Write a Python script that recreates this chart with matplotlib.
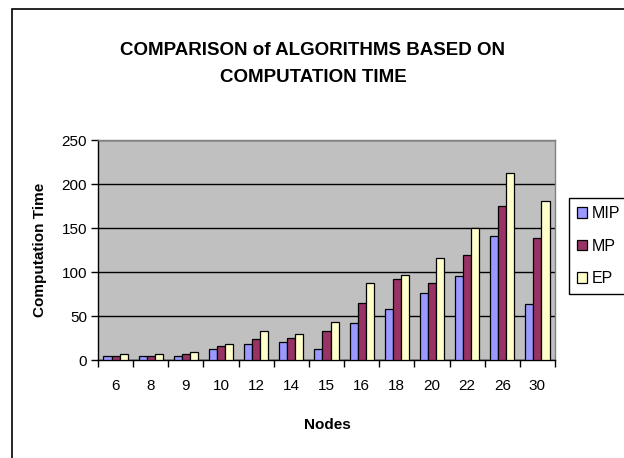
import matplotlib
matplotlib.use("Agg")
import matplotlib.pyplot as plt
from matplotlib.patches import Rectangle
import numpy as np

plt.rcParams['font.family'] = ['Liberation Sans', 'DejaVu Sans']

nodes = ['6', '8', '9', '10', '12', '14', '15', '16', '18', '20', '22', '26', '30']
mip = [5, 5, 5, 13, 18, 21, 13, 42, 58, 76, 96, 141, 64]
mp = [5, 5, 7, 16, 24, 25, 33, 65, 92, 87, 119, 175, 139]
ep = [7, 7, 9, 18, 33, 30, 43, 88, 97, 116, 150, 213, 181]
series = [('MIP', mip, '#9999FF'), ('MP', mp, '#993366'), ('EP', ep, '#FFFFCC')]
yticks = [0, 50, 100, 150, 200, 250]

W, H = 624, 458
fig = plt.figure(figsize=(W / 100, H / 100), dpi=100)

# outer chart frame
fig.patches.append(Rectangle((12 / W, -0.1), 1.2, (H - 9) / H + 0.1, transform=fig.transFigure,
                             fill=False, edgecolor='black', linewidth=1.2))

l, r, t, b = 98, 555, 140, 360
ax = fig.add_axes([l / W, (H - b) / H, (r - l) / W, (b - t) / H])
ax.set_facecolor('#C0C0C0')

x = np.arange(len(nodes))
bw = 0.23
for i, (name, vals, col) in enumerate(series):
    ax.bar(x + (i - 1) * bw, vals, bw, color=col, edgecolor='black', linewidth=0.9,
           label=name, zorder=3)

ax.set_xlim(-0.5, len(nodes) - 0.5)
ax.set_ylim(0, 250)
ax.set_yticks(yticks)
ax.yaxis.grid(True, color='black', linewidth=1.0, zorder=1)
ax.set_axisbelow(True)

ax.set_xticks(np.arange(-0.5, len(nodes), 1.0))
ax.set_xticklabels([])
ax.set_xticks(x, minor=True)
ax.set_xticklabels(nodes, minor=True, fontsize=11)
ax.tick_params(axis='x', which='major', length=5, width=1, direction='out')
ax.tick_params(axis='x', which='minor', length=0, pad=14)
ax.tick_params(axis='y', length=5, width=1, direction='out', labelsize=11, pad=3)

for s in ['top', 'right']:
    ax.spines[s].set_color('#808080')
    ax.spines[s].set_linewidth(1.0)
for s in ['left', 'bottom']:
    ax.spines[s].set_color('black')
    ax.spines[s].set_linewidth(1.0)

fig.text(313 / W, 1 - 64 / H, 'COMPARISON of ALGORITHMS BASED ON\nCOMPUTATION TIME',
         ha='center', va='center', fontsize=13.5, fontweight='bold', linespacing=1.8)
fig.text(327 / W, 1 - 425 / H, 'Nodes', ha='center', va='center', fontsize=11, fontweight='bold')
fig.text(40 / W, 1 - 250 / H, 'Computation Time', ha='center', va='center', rotation=90,
         fontsize=11, fontweight='bold')

leg = fig.legend(loc='upper left', bbox_to_anchor=(569 / W, 1 - 198 / H), fontsize=11.5,
                 frameon=True, fancybox=False, edgecolor='black', framealpha=1,
                 handlelength=0.65, handleheight=0.65, handletextpad=0.25, borderpad=0.5,
                 labelspacing=1.1, borderaxespad=0)
leg.get_frame().set_linewidth(1.0)

fig.savefig('out.png', dpi=100)
